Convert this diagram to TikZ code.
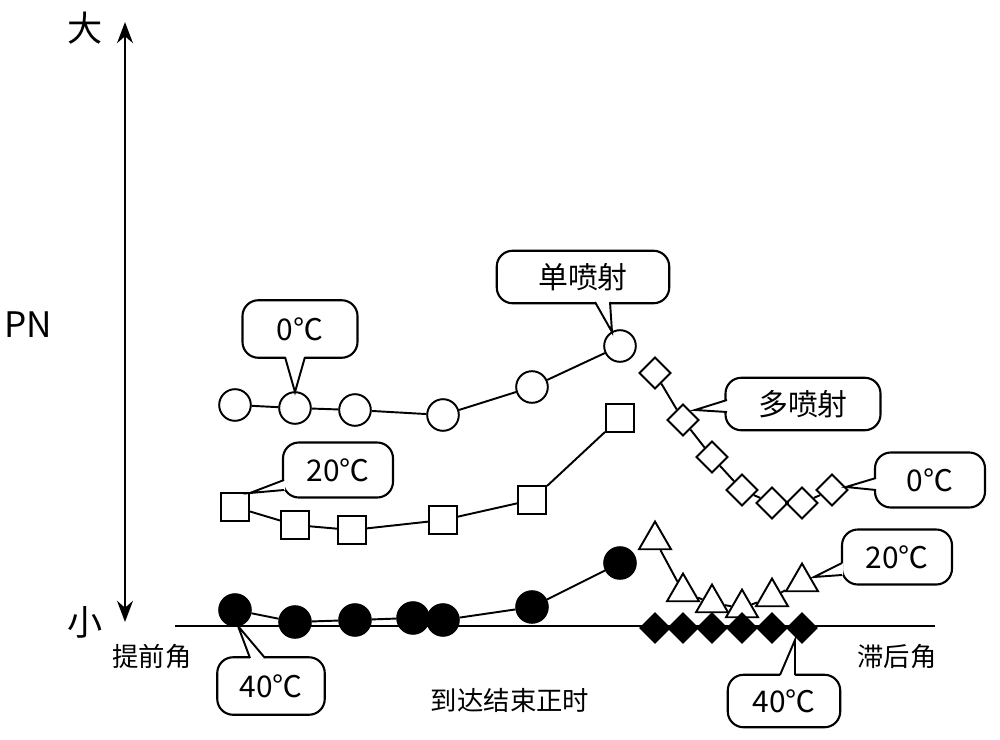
\documentclass[tikz,border=0pt]{standalone}
\usepackage{fontspec}
\setmainfont{Noto Sans CJK SC}
\usetikzlibrary{shapes.geometric,arrows.meta}

\tikzset{
  pt/.style={draw,line width=1.1pt,fill=white,inner sep=0pt},
  ocirc/.style={pt,circle,minimum size=18pt},
  osq/.style={pt,rectangle,minimum size=16pt},
  fcirc/.style={pt,circle,minimum size=18pt,fill=black},
  odia/.style={pt,diamond,minimum size=18pt},
  fdia/.style={pt,diamond,minimum size=17pt,fill=black},
  otri/.style={pt,regular polygon,regular polygon sides=3,minimum size=21pt},
  callbox/.style={draw,line width=1.2pt,fill=white,rounded corners=9pt,font=\fontsize{17}{17}\selectfont},
  link/.style={line width=1.1pt}
}

\begin{document}
\begin{tikzpicture}[x=0.2mm,y=-0.2mm]
  \useasboundingbox (0,0) rectangle (1000,740);

  % axis and baseline
  \draw[line width=1.5pt,{Stealth[length=12pt]}-{Stealth[length=12pt]}] (125,22) -- (125,622);
  \draw[line width=1.2pt] (175,626) -- (935,626);
  \node (big)  at (85,28)  {\fontsize{20}{20}\selectfont 大};
  \node (small) at (85,622) {\fontsize{20}{20}\selectfont 小};
  \node (pn)   at (28,325) {\fontsize{20}{20}\selectfont PN};
  \node (adv)  at (152,657) {\fontsize{15}{15}\selectfont 提前角};
  \node (ret)  at (897,657) {\fontsize{15}{15}\selectfont 滞后角};
  \node (xlab) at (510,700) {\fontsize{15}{15}\selectfont 到达结束正时};

  % single injection series
  \foreach \x/\y [count=\i] in {235/405,295/408,355/410,443/415,532/387,620/346}
    \node[ocirc] (a\i) at (\x,\y) {};
  \foreach \x/\y [count=\i] in {235/507,295/525,352/530,443/520,532/500,620/418}
    \node[osq] (b\i) at (\x,\y) {};
  \foreach \x/\y [count=\i] in {235/610,295/622,355/620,413/618,443/620,532/607,620/563}
    \node[fcirc] (c\i) at (\x,\y) {};
  \foreach \i [evaluate=\i as \j using int(\i+1)] in {1,...,5} {
    \draw[link] (a\i) -- (a\j);
    \draw[link] (b\i) -- (b\j);
  }
  \foreach \i [evaluate=\i as \j using int(\i+1)] in {1,...,6}
    \draw[link] (c\i) -- (c\j);

  % multi injection series
  \foreach \x/\y [count=\i] in {655/373,683/420,712/457,742/490,772/503,802/503,832/490}
    \node[odia] (d\i) at (\x,\y) {};
  \foreach \x/\y [count=\i] in {655/540,683/592,712/603,742/608,772/597,802/582}
    \node[otri] (t\i) at (\x,\y) {};
  \foreach \x [count=\i] in {655,683,712,742,772,802}
    \node[fdia] (e\i) at (\x,628) {};
  \foreach \i [evaluate=\i as \j using int(\i+1)] in {1,...,6}
    \draw[link] (d\i) -- (d\j);
  \foreach \i [evaluate=\i as \j using int(\i+1)] in {1,...,5}
    \draw[link] (t\i) -- (t\j);

  % callouts
  \node[callbox,minimum width=23mm,minimum height=11.5mm] (l0) at (300,329) {0℃};
  \coordinate (p0) at (295,392);
  \fill[white] (285,356) -- (p0) -- (305,356);
  \draw[link] (285,357) -- (p0) -- (305,357);

  \node[callbox,minimum width=22mm,minimum height=11mm] (l20) at (338,470) {20℃};
  \coordinate (p20) at (250,493);
  \fill[white] (285,480) -- (p20) -- (285,490);
  \draw[link] (284,480) -- (p20) -- (284,490);

  \node[callbox,minimum width=34.5mm,minimum height=10.5mm] (lsi) at (583,277) {单喷射};
  \coordinate (psi) at (612,332);
  \fill[white] (595,301) -- (psi) -- (610,301);
  \draw[link] (595,302) -- (psi) -- (610,302);

  \node[callbox,minimum width=31mm,minimum height=10.5mm] (lmi) at (803,404) {多喷射};
  \coordinate (pmi) at (695,410);
  \fill[white] (728,400) -- (pmi) -- (728,412);
  \draw[link] (727,400) -- (pmi) -- (727,412);

  \node[callbox,minimum width=22mm,minimum height=11mm] (r0) at (930,480) {0℃};
  \coordinate (q0) at (846,487);
  \fill[white] (877,478) -- (q0) -- (877,490);
  \draw[link] (876,478) -- (q0) -- (876,490);

  \node[callbox,minimum width=22mm,minimum height=11mm] (r20) at (897,557) {20℃};
  \coordinate (q20) at (814,577);
  \fill[white] (843,563) -- (q20) -- (843,575);
  \draw[link] (842,563) -- (q20) -- (842,575);

  \node[callbox,minimum width=21.5mm,minimum height=11.5mm] (l40) at (271,686) {40℃};
  \coordinate (p40) at (238,626);
  \fill[white] (250,659) -- (p40) -- (265,659);
  \draw[link] (250,658) -- (p40) -- (265,658);

  \node[callbox,minimum width=22.5mm,minimum height=10.5mm] (r40) at (784,701) {40℃};
  \coordinate (q40) at (795,640);
  \fill[white] (780,676) -- (q40) -- (795,676);
  \draw[link] (780,675) -- (q40) -- (795,675);
\end{tikzpicture}
\end{document}
